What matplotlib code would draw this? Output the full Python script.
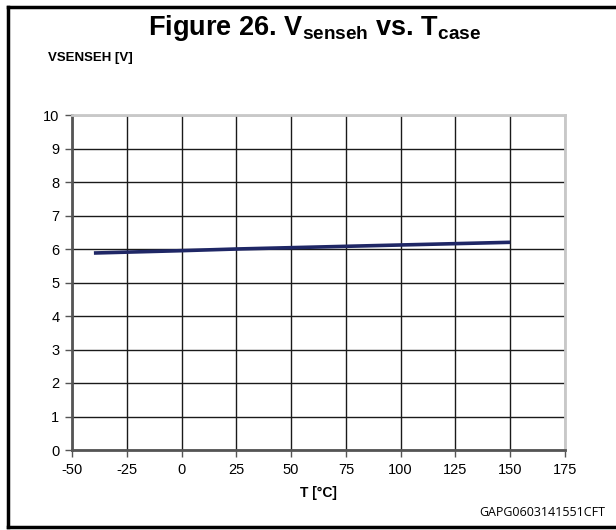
import matplotlib
matplotlib.use("Agg")
import matplotlib.pyplot as plt
from matplotlib.lines import Line2D

temps = [-40, 0, 25, 50, 75, 100, 125, 150]
vsenseh = [5.88, 5.95, 6.0, 6.04, 6.08, 6.12, 6.16, 6.2]
xticks = [-50, -25, 0, 25, 50, 75, 100, 125, 150, 175]
yticks = list(range(0, 11))

plt.rcParams['font.family'] = ['Liberation Sans', 'DejaVu Sans']
plt.rcParams['mathtext.fontset'] = 'custom'
plt.rcParams['mathtext.rm'] = 'Liberation Sans'
plt.rcParams['mathtext.bf'] = 'Liberation Sans:bold'
plt.rcParams['mathtext.it'] = 'Liberation Sans:italic'
W, H = 616, 530
fig = plt.figure(figsize=(W / 100, H / 100), dpi=100)
ax = fig.add_axes([72 / W, 1 - 450 / H, (565 - 72) / W, (450 - 115) / H])

ax.plot(temps, vsenseh, color='#1f2766', lw=2.6, solid_capstyle='butt', zorder=3)
ax.set_xlim(-50, 175)
ax.set_ylim(0, 10)
ax.set_xticks(xticks)
ax.set_yticks(yticks)
ax.set_xticklabels([str(t) for t in xticks], fontsize=10.5)
ax.set_yticklabels([str(t) for t in yticks], fontsize=10.5)
ax.grid(True, color='#1a1a1a', lw=1.0)
ax.set_axisbelow(True)
for s in ['left', 'bottom']:
    ax.spines[s].set_color('#555555')
    ax.spines[s].set_linewidth(2.0)
for s in ['top', 'right']:
    ax.spines[s].set_color('#c8c8c8')
    ax.spines[s].set_linewidth(2.0)
ax.tick_params(direction='out', length=5, width=1, color='#555555', pad=4)

fig.text(315 / W, 1 - 28 / H, r'Figure 26. V$_\mathbf{senseh}$ vs. T$_\mathbf{case}$',
         ha='center', va='center', fontsize=19.5, fontweight='bold')
fig.text(48 / W, 1 - 58 / H, 'VSENSEH [V]', ha='left', va='center', fontsize=9.5, fontweight='bold')
fig.text(318 / W, 1 - 493 / H, 'T [°C]', ha='center', va='center', fontsize=10, fontweight='bold')
fig.text(605 / W, 1 - 512 / H, 'GAPG0603141551CFT', ha='right', va='center', fontsize=9,
         family=['Open Sans', 'DejaVu Sans'])

# outer border
fig.add_artist(Line2D([8 / W, 8 / W], [1 - 7 / H, 1 - 527 / H], color='black', lw=2.5, transform=fig.transFigure))
fig.add_artist(Line2D([8 / W, 1.0], [1 - 7 / H, 1 - 7 / H], color='black', lw=2.5, transform=fig.transFigure))
fig.add_artist(Line2D([8 / W, 1.0], [1 - 527 / H, 1 - 527 / H], color='black', lw=2.5, transform=fig.transFigure))

fig.savefig('out.png', dpi=100)
